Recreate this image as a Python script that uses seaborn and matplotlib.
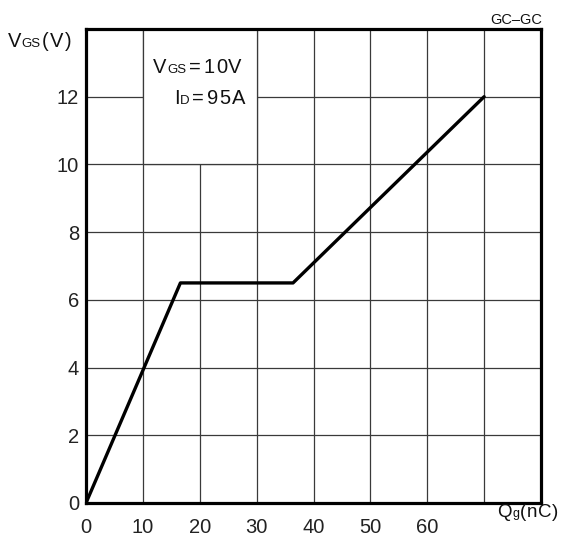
import matplotlib
matplotlib.use("Agg")
import matplotlib.pyplot as plt
from matplotlib.patches import Rectangle
import seaborn as sns

# Gate charge curve: total gate charge vs gate-source voltage
qg_nc = [0, 16.6, 36.4, 70]
vgs_v = [0, 6.5, 6.5, 12]

x_ticks = [0, 10, 20, 30, 40, 50, 60, 70]
x_labels = ["0", "10", "20", "30", "40", "50", "60", ""]
y_ticks = [0, 2, 4, 6, 8, 10, 12, 14]
y_labels = ["0", "2", "4", "6", "8", "10", "12", ""]

sns.set_theme(style="white")
plt.rcParams["font.family"] = ["Liberation Sans", "DejaVu Sans"]

W, H, DPI = 563, 538, 100
fig = plt.figure(figsize=(W / DPI, H / DPI), dpi=DPI)
ax = fig.add_axes([86 / W, 1 - 503 / H, (541 - 86) / W, (503 - 29) / H])

grid_col = "#3a3a3a"
ax.set_xlim(0, 80)
ax.set_ylim(0, 14)
ax.set_xticks(x_ticks)
ax.set_xticklabels(x_labels)
ax.set_yticks(y_ticks)
ax.set_yticklabels(y_labels)
ax.grid(True, color=grid_col, linewidth=0.9, zorder=0)
ax.set_axisbelow(True)
ax.tick_params(axis="both", length=0, labelsize=14.5, labelcolor="#222222")
ax.tick_params(axis="x", pad=11)
ax.tick_params(axis="y", pad=5)
for sp in ax.spines.values():
    sp.set_visible(True)
    sp.set_color("black")
    sp.set_linewidth(2.3)

# blank panel holding the test conditions
ax.add_patch(Rectangle((10, 10), 20, 4, facecolor="white", edgecolor=grid_col,
                       linewidth=0.9, zorder=1))

sns.lineplot(x=qg_nc, y=vgs_v, color="black", linewidth=2.4, sort=False,
             ax=ax, zorder=3)
ax.set_xlabel("")
ax.set_ylabel("")

fig.canvas.draw()
renderer = fig.canvas.get_renderer()


def rich_text(x_px, y_px, parts, ha="left", track=0.0):
    """Draw differently sized pieces on one baseline.

    Large pieces are set glyph by glyph with extra tracking between their
    own glyphs (wider around '='); small pieces stay whole. Coordinates
    are pixels from the figure's top-left corner.
    """
    units = []
    for s, size, spaced in parts:
        chunks = list(s) if spaced else [s]
        for i, ch in enumerate(chunks):
            t = fig.text(0, 0, ch, fontsize=size)
            w = t.get_window_extent(renderer).width
            t.remove()
            gap = track if i < len(chunks) - 1 else 0.5
            lead = 2.0 if ch == "=" else 0.0
            if ch == "=":
                gap += 2.0
            units.append((ch, size, w, gap, lead))
    total = sum(w + g + l for _, _, w, g, l in units) - units[-1][3]
    x = x_px - total if ha == "right" else x_px
    for ch, size, w, g, l in units:
        x += l
        fig.text(x / W, 1 - y_px / H, ch, fontsize=size, color="#111111",
                 va="baseline", ha="left")
        x += w + g


big, small = 14.5, 9.5
rich_text(8, 47, [("V", big, True), ("GS", small, False), ("(V)", big, True)],
          track=1.6)
rich_text(153, 73, [("V", big, True), ("GS", small, False), ("=10V", big, True)],
          track=1.2)
rich_text(245, 104, [("I", big, True), ("D", small, False), ("=95A", big, True)],
          ha="right", track=1.2)
rich_text(558, 517, [("Q", 13.5, True), ("g", 9, False), ("(nC)", 13.5, True)],
          ha="right", track=0.6)
fig.text(542 / W, 1 - 24 / H, "GC\u2013GC", fontsize=10.5, color="#111111",
         ha="right", va="baseline")

fig.savefig("out.png", dpi=DPI)
